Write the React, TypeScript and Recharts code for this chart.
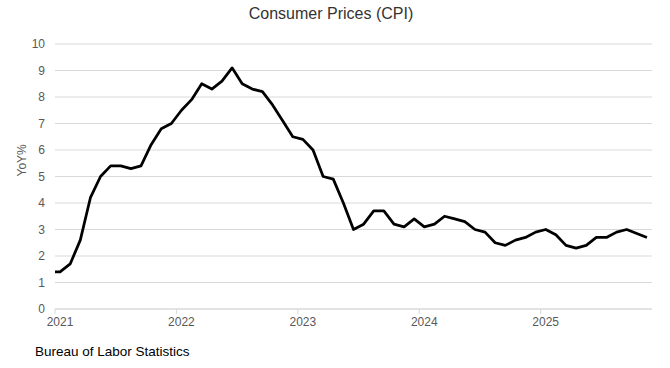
import { LineChart, Line, XAxis, YAxis, CartesianGrid } from 'recharts';

// monthly CPI, year over year %, Oct 2025 has no release
const months = [
  '2020-12',
  '2021-01', '2021-02', '2021-03', '2021-04', '2021-05', '2021-06',
  '2021-07', '2021-08', '2021-09', '2021-10', '2021-11', '2021-12',
  '2022-01', '2022-02', '2022-03', '2022-04', '2022-05', '2022-06',
  '2022-07', '2022-08', '2022-09', '2022-10', '2022-11', '2022-12',
  '2023-01', '2023-02', '2023-03', '2023-04', '2023-05', '2023-06',
  '2023-07', '2023-08', '2023-09', '2023-10', '2023-11', '2023-12',
  '2024-01', '2024-02', '2024-03', '2024-04', '2024-05', '2024-06',
  '2024-07', '2024-08', '2024-09', '2024-10', '2024-11', '2024-12',
  '2025-01', '2025-02', '2025-03', '2025-04', '2025-05', '2025-06',
  '2025-07', '2025-08', '2025-09', '2025-11',
];

const yoy = [
  1.4,
  1.4, 1.7, 2.6, 4.2, 5.0, 5.4, 5.4, 5.3, 5.4, 6.2, 6.8, 7.0,
  7.5, 7.9, 8.5, 8.3, 8.6, 9.1, 8.5, 8.3, 8.2, 7.7, 7.1, 6.5,
  6.4, 6.0, 5.0, 4.9, 4.0, 3.0, 3.2, 3.7, 3.7, 3.2, 3.1, 3.4,
  3.1, 3.2, 3.5, 3.4, 3.3, 3.0, 2.9, 2.5, 2.4, 2.6, 2.7, 2.9,
  3.0, 2.8, 2.4, 2.3, 2.4, 2.7, 2.7, 2.9, 3.0, 2.7,
];

const years = ['2021', '2022', '2023', '2024', '2025'];
const yTicks = [0, 1, 2, 3, 4, 5, 6, 7, 8, 9, 10];

const monthIndex = (m: string) => {
  const [y, mo] = m.split('-').map(Number);
  return (y - 2021) * 12 + (mo - 1);
};

const data = months.map((m, i) => ({ t: monthIndex(m), v: yoy[i] }));
// tick marks sit between Dec and Jan
const yearTicks = years.map((_, i) => i * 12 - 0.5);

const font = '"Liberation Sans Narrow", "Liberation Sans", Arial, sans-serif';

const YearTick = (props: any) => {
  const { x, y, payload } = props;
  const i = Math.round((payload.value + 0.5) / 12);
  return (
    <text x={x + 5} y={y + 10} textAnchor="middle" fontSize={12} fill="#595959" fontFamily={font}>
      {years[i]}
    </text>
  );
};

export default function App() {
  return (
    <div style={{ position: 'absolute', left: 0, top: 0, width: 670, height: 368, background: '#fff' }}>
      <div style={{ position: 'absolute', left: 0, top: 5, width: 662, textAlign: 'center', fontFamily: '"Liberation Sans", Arial, sans-serif', fontSize: 16, color: '#333' }}>
        Consumer Prices (CPI)
      </div>
      <LineChart width={670} height={368} data={data} margin={{ top: 44, right: 18, bottom: 39, left: 0 }}>
        <CartesianGrid vertical={false} stroke="#d9d9d9" />
        <XAxis
          type="number"
          dataKey="t"
          domain={[-0.5, 58.5]}
          allowDataOverflow
          ticks={yearTicks}
          interval={0}
          height={20}
          tickSize={5}
          tickMargin={2}
          stroke="#d9d9d9"
          tick={<YearTick />}
        />
        <YAxis
          domain={[0, 10]}
          ticks={yTicks}
          interval={0}
          width={55}
          axisLine={false}
          tickLine={false}
          tickMargin={4}
          tick={{ fontSize: 12, fill: '#595959', fontFamily: font }}
          label={{ value: 'YoY%', angle: -90, position: 'insideLeft', offset: 22, fill: '#595959', fontSize: 12, fontFamily: font }}
        />
        <Line
          type="linear"
          dataKey="v"
          stroke="#000"
          strokeWidth={2.75}
          strokeLinejoin="round"
          dot={false}
          isAnimationActive={false}
        />
      </LineChart>
      <div style={{ position: 'absolute', left: 35, top: 344, fontFamily: font, fontSize: 13.5, color: '#000' }}>
        Bureau of Labor Statistics
      </div>
    </div>
  );
}
